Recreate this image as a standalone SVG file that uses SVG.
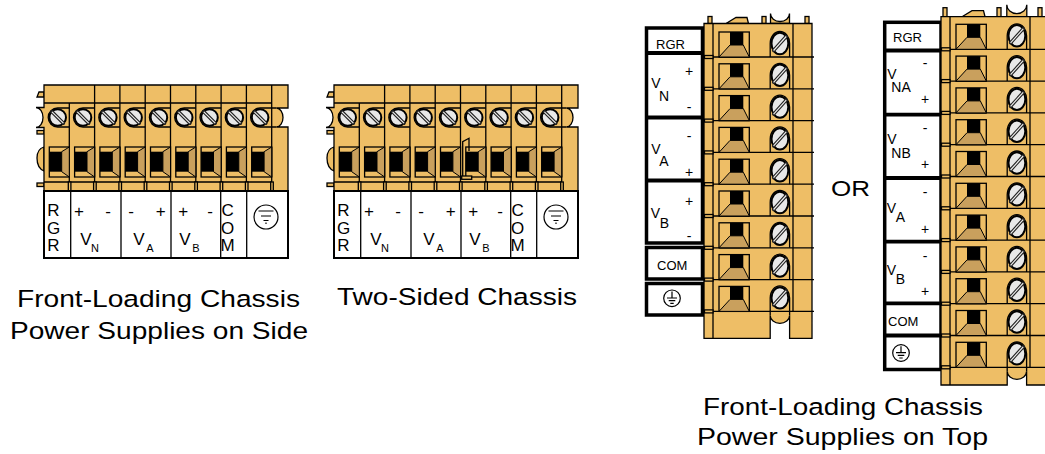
<svg xmlns="http://www.w3.org/2000/svg" width="1045" height="454" viewBox="0 0 1045 454">
<style>
.b{fill:#EEBE66;stroke:#000;stroke-width:1.3}
.ln{fill:none;stroke:#000;stroke-width:1.3}
.sq{fill:#EEBE66;stroke:#000;stroke-width:1.3}
.tr{fill:#C9A05D;stroke:#000;stroke-width:1}
.bk{fill:#000}
.scr{fill:#E8E8E8;stroke:#000;stroke-width:2}
.sl1{stroke:#222;stroke-width:3.4;stroke-linecap:round}
.sl2{stroke:#EDEDED;stroke-width:1.2}
.lb{fill:#fff;stroke:#000;stroke-width:2}
.lb4{fill:#fff;stroke:#000;stroke-width:3.5}
.sep{stroke:#000;stroke-width:3.8}
.t{font-family:"Liberation Sans",Arial,Helvetica,sans-serif;fill:#000}
.m{text-anchor:middle}
.gnd{fill:none;stroke:#000;stroke-width:1.2}
</style>
<defs>
<g id="hterm">
<rect x="68.3" y="182" width="2.6" height="9" class="b"/>
<path class="ln" d="M69.3,108 H57.7 A9.5 9.5 0 0 0 57.7 127 H69.3"/>
<circle cx="57.7" cy="117.5" r="8.3" class="scr"/>
<line x1="52" y1="111.8" x2="63.4" y2="123.2" class="sl1"/>
<line x1="52" y1="111.8" x2="63.4" y2="123.2" class="sl2"/>
<rect x="49.3" y="147" width="20" height="30" class="sq"/>
<polygon points="61.7,151.7 69.3,147 69.3,177 61.7,171.7" class="tr"/>
<rect x="49.3" y="151.7" width="12.4" height="20" class="bk"/>
</g>
<g id="hbody">
<polygon points="39,92 44,92 44,97 37,97" class="b"/>
<rect x="37" y="130.5" width="7" height="3.5" class="b"/>
<path d="M44,147 Q37,149 37,158 Q37,168 44,171 Z" class="b"/>
<rect x="37" y="183" width="7" height="3.5" class="b"/>
<path class="b" d="M44,85 H288 V108 H276.5 A6.5 9.5 0 0 1 276.5 127 H288 V191 H44 V127.5 H36 A7 10 0 0 0 36 107.5 H44 Z"/>
<path class="ln" d="M44,103 H271.7 M44,182 H271.7 M271.7,85 V191 M69.3,103 V182 M94.6,85 V182 M119.9,85 V182 M145.2,85 V182 M170.5,85 V182 M195.8,85 V182 M221.1,85 V182 M246.4,85 V182 M271.7,108 H276.5 M271.7,127 H276.5"/>
<use href="#hterm"/>
<use href="#hterm" x="25.3"/>
<use href="#hterm" x="50.6"/>
<use href="#hterm" x="75.9"/>
<use href="#hterm" x="101.2"/>
<use href="#hterm" x="126.5"/>
<use href="#hterm" x="151.8"/>
<use href="#hterm" x="177.1"/>
<use href="#hterm" x="202.4"/>
<rect x="44" y="191" width="244" height="67" class="lb"/>
<path class="ln" stroke-width="2" d="M70.7,191 V258 M121,191 V258 M171,191 V258 M220.7,191 V258 M246.7,191 V258"/>
<circle cx="266" cy="217" r="12" class="gnd"/>
<path class="gnd" d="M258.5,211 H273.5 M261,216 H271 M263.5,220.5 H268.5 M266,222.5 V224"/>
</g>
<g id="vterm">
<rect x="0.5" y="-1.5" width="8.5" height="3" class="b" stroke-width="0.8"/>
<path class="ln" d="M9,0 H110"/>
<rect x="15" y="-25" width="30.3" height="25" class="sq"/>
<polygon points="26,-12 39.3,-12 45.3,0 15,0" class="tr"/>
<rect x="26" y="-25" width="13.3" height="13" class="bk"/>
<path class="ln" d="M66.2,0 V-13.5 A9.7 12 0 0 1 85.6 -13.5 V0"/>
<ellipse cx="75.9" cy="-13.5" rx="8.4" ry="10.7" class="scr"/>
<line x1="69.6" y1="-6.5" x2="82.2" y2="-20.5" class="sl1"/>
<line x1="69.6" y1="-6.5" x2="82.2" y2="-20.5" class="sl2"/>
</g>
</defs>

<g id="connectors"></g>

<g id="block1">
<use href="#hbody"/>
<g class="t m" font-size="17">
<text x="53.5" y="216">R</text><text x="53.5" y="234">G</text><text x="53.5" y="251">R</text>
<text x="79" y="216.5">+</text><text x="108" y="216.5">-</text>
<text x="86" y="245">V</text><text x="95" y="252" font-size="11">N</text>
<text x="131" y="216.5">-</text><text x="160.7" y="216.5">+</text>
<text x="139" y="245">V</text><text x="150" y="252" font-size="11">A</text>
<text x="183.3" y="216.5">+</text><text x="210" y="216.5">-</text>
<text x="185" y="245">V</text><text x="196" y="252" font-size="11">B</text>
<text x="227.7" y="216">C</text><text x="227.7" y="234">O</text><text x="227.7" y="251">M</text>
</g>
</g>

<g id="block2" transform="translate(290,0)">
<use href="#hbody"/>
<path d="M172.7,177 V141.7 L179,138.3 V151" class="ln" stroke-width="1"/>
<rect x="171.7" y="176" width="10" height="3.3" class="b" stroke-width="1"/>
<g class="t m" font-size="17">
<text x="53.5" y="216">R</text><text x="53.5" y="234">G</text><text x="53.5" y="251">R</text>
<text x="79" y="216.5">+</text><text x="108" y="216.5">-</text>
<text x="86" y="245">V</text><text x="95" y="252" font-size="11">N</text>
<text x="131" y="216.5">-</text><text x="160.7" y="216.5">+</text>
<text x="139" y="245">V</text><text x="150" y="252" font-size="11">A</text>
<text x="183.3" y="216.5">+</text><text x="210" y="216.5">-</text>
<text x="185" y="245">V</text><text x="196" y="252" font-size="11">B</text>
<text x="227.7" y="216">C</text><text x="227.7" y="234">O</text><text x="227.7" y="251">M</text>
</g>
</g>

<g id="block3">
<rect x="646.5" y="28" width="56" height="215" class="lb4"/>
<path class="sep" d="M646.5,53 H702.5 M646.5,117.5 H702.5 M646.5,180.5 H702.5"/>
<rect x="646.5" y="247.5" width="56" height="31.5" class="lb4"/>
<rect x="646.5" y="283.5" width="56" height="31.5" class="lb4"/>
<g transform="translate(704,57)">
<rect x="4" y="-40.5" width="4" height="7" class="b"/>
<polygon points="22,-33.5 32,-39.5 43,-39.5 44.5,-33.5" class="b"/>
<rect x="58" y="-40.5" width="4" height="7" class="b"/>
<path d="M66.5,-33.5 V-43.5 A9.5 8 0 0 0 85.5 -43.5 V-33.5 Z" class="b"/>
<rect x="101" y="-40.5" width="4" height="7" class="b"/>
<path class="b" d="M0,-33.5 H108 V281.3 H85.6 V258.4 A9.7 8 0 0 1 66.2 258.4 V281.3 H0 Z"/>
<path class="ln" d="M9,-33.5 V281.3 M89,-33.5 V254.4 M66.2,254.4 V258.4 M85.6,254.4 V258.4"/>
<use href="#vterm"/>
<use href="#vterm" y="31.8"/>
<use href="#vterm" y="63.6"/>
<use href="#vterm" y="95.4"/>
<use href="#vterm" y="127.2"/>
<use href="#vterm" y="159"/>
<use href="#vterm" y="190.8"/>
<use href="#vterm" y="222.6"/>
<use href="#vterm" y="254.4"/>
</g>
<g class="t" font-size="14">
<text x="656" y="49" font-size="13">RGR</text>
<text class="m" x="689" y="76">+</text><text class="m" x="689" y="111.5">-</text>
<text class="m" x="656" y="88">V</text><text class="m" x="664" y="100.5">N</text>
<text class="m" x="689" y="141">-</text><text class="m" x="689" y="177">+</text>
<text class="m" x="656" y="153.5">V</text><text class="m" x="664" y="166">A</text>
<text class="m" x="689" y="206">+</text><text class="m" x="689" y="240.5">-</text>
<text class="m" x="655.5" y="218">V</text><text class="m" x="664.5" y="228">B</text>
<text x="657" y="270" font-size="13">COM</text>
</g>
<circle cx="672" cy="298.3" r="8.3" class="gnd"/>
<path class="gnd" d="M672,291.5 V298 M667,298 H677 M668.7,300.7 H675.3 M670.3,303.3 H673.7"/>
</g>

<g id="block4">
<rect x="884.7" y="22.3" width="56.3" height="347.2" class="lb4"/>
<path class="sep" d="M884.7,50.5 H941 M884.7,114.7 H941 M884.7,178 H941 M884.7,241.7 H941 M884.7,303.3 H941 M884.7,335.5 H941"/>
<g transform="translate(941,49.3)">
<rect x="2" y="-41.6" width="4" height="9" class="b"/>
<polygon points="21,-32.6 31,-38.6 42.5,-38.6 44,-32.6" class="b"/>
<rect x="56" y="-41.6" width="4" height="9" class="b"/>
<path d="M65.8,-32.6 V-44.6 A10 9 0 0 0 85.8 -44.6 V-32.6 Z" class="b"/>
<rect x="97" y="-41.6" width="4" height="9" class="b"/>
<path class="b" d="M0,-32.6 H110 V335.7 H85.6 V322 A9.7 8 0 0 1 66.2 322 V335.7 H0 Z"/>
<path class="ln" d="M9,-32.6 V335.7 M89,-32.6 V318 M66.2,318 V322 M85.6,318 V322"/>
<use href="#vterm"/>
<use href="#vterm" y="31.8"/>
<use href="#vterm" y="63.6"/>
<use href="#vterm" y="95.4"/>
<use href="#vterm" y="127.2"/>
<use href="#vterm" y="159"/>
<use href="#vterm" y="190.8"/>
<use href="#vterm" y="222.6"/>
<use href="#vterm" y="254.4"/>
<use href="#vterm" y="286.2"/>
<use href="#vterm" y="318"/>
</g>
<g class="t" font-size="14">
<text x="893" y="42" font-size="13">RGR</text>
<text class="m" x="925" y="67.5">-</text><text class="m" x="925" y="103.5">+</text>
<text class="m" x="892" y="79">V</text><text class="m" x="901" y="92">NA</text>
<text class="m" x="925" y="132.5">-</text><text class="m" x="925" y="168.5">+</text>
<text class="m" x="892" y="144">V</text><text class="m" x="901" y="157.5">NB</text>
<text class="m" x="925" y="197">-</text><text class="m" x="925" y="233.5">+</text>
<text class="m" x="891.5" y="213">V</text><text class="m" x="900.5" y="221.5">A</text>
<text class="m" x="925" y="260.5">-</text><text class="m" x="925" y="296">+</text>
<text class="m" x="891.5" y="275">V</text><text class="m" x="900.5" y="284">B</text>
<text x="888" y="326" font-size="13">COM</text>
</g>
<circle cx="901" cy="353" r="8.3" class="gnd"/>
<path class="gnd" d="M901,346.2 V352.7 M896,352.7 H906 M897.7,355.4 H904.3 M899.3,358 H902.7"/>
</g>

<g id="captions" class="t" font-size="24.5">
<text x="17" y="307" textLength="283" lengthAdjust="spacingAndGlyphs">Front-Loading Chassis</text>
<text x="10" y="339" textLength="298" lengthAdjust="spacingAndGlyphs">Power Supplies on Side</text>
<text x="337" y="305" textLength="240" lengthAdjust="spacingAndGlyphs">Two-Sided Chassis</text>
<text x="831" y="196" font-size="22" textLength="39" lengthAdjust="spacingAndGlyphs">OR</text>
<text x="703" y="415" textLength="280" lengthAdjust="spacingAndGlyphs">Front-Loading Chassis</text>
<text x="697" y="445" textLength="291" lengthAdjust="spacingAndGlyphs">Power Supplies on Top</text>
</g>
</svg>
